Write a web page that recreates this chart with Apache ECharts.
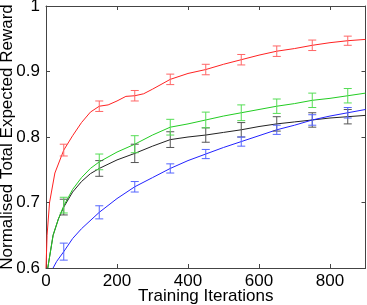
<!DOCTYPE html>
<html><head><meta charset="utf-8">
<script src="https://cdn.jsdelivr.net/npm/echarts@6/dist/echarts.min.js"></script>
<style>html,body{margin:0;padding:0;background:#fff}#c{width:367px;height:305px}</style>
</head><body><div id="c"></div>
<script>
const redX   = [0,3,10,25,50,75,100,125,150,175,200,225,250,275,300,350,400,450,500,550,600,650,700,750,800,850,900];
const redY   = [0.600,0.650,0.700,0.745,0.780,0.802,0.822,0.838,0.847,0.849,0.855,0.862,0.863,0.866,0.873,0.888,0.897,0.903,0.911,0.918,0.925,0.931,0.935,0.940,0.944,0.947,0.949];
const greenX = [5,20,35,50,75,100,125,150,200,250,300,350,400,450,500,550,600,650,700,750,800,850,900];
const greenY = [0.600,0.650,0.675,0.695,0.720,0.738,0.752,0.762,0.777,0.789,0.803,0.815,0.820,0.826,0.832,0.837,0.842,0.847,0.851,0.856,0.859,0.863,0.867];
const blackX = [5,20,35,50,75,100,125,150,200,250,300,350,400,450,500,550,600,650,700,750,800,850,900];
const blackY = [0.600,0.650,0.675,0.693,0.716,0.732,0.744,0.752,0.765,0.775,0.786,0.796,0.800,0.803,0.807,0.811,0.816,0.820,0.823,0.826,0.829,0.831,0.833];
const blueX  = [20,30,50,75,100,150,200,250,300,350,400,450,500,550,600,650,700,750,800,850,900];
const blueY  = [0.600,0.610,0.625,0.645,0.660,0.685,0.706,0.724,0.738,0.752,0.764,0.774,0.784,0.793,0.802,0.811,0.818,0.826,0.832,0.837,0.842];

const errX      = [50,150,250,350,450,550,650,750,850];
const redMean   = [0.780,0.847,0.863,0.888,0.903,0.918,0.931,0.940,0.947];
const redErr    = [0.009,0.008,0.008,0.008,0.008,0.008,0.008,0.008,0.007];
const greenMean = [0.696,0.762,0.789,0.815,0.826,0.837,0.847,0.856,0.863];
const greenErr  = [0.012,0.012,0.013,0.012,0.012,0.012,0.011,0.011,0.011];
const blackMean = [0.693,0.752,0.775,0.796,0.803,0.811,0.820,0.826,0.831];
const blackErr  = [0.012,0.012,0.014,0.012,0.011,0.011,0.011,0.011,0.011];
const blueMean  = [0.625,0.685,0.724,0.752,0.774,0.793,0.811,0.826,0.837];
const blueErr   = [0.013,0.010,0.008,0.007,0.007,0.007,0.007,0.008,0.008];

const yTicks = [0.6,0.7,0.8,0.9,1];
const xTicks = [0,200,400,600,800];

const FONT = 'Liberation Sans';
const FS = 17;
const chart = echarts.init(document.getElementById('c'), null, {renderer:'canvas'});

function pairs(xs, ys){ return xs.map((x,i)=>[x, ys[i]]); }
function lineSeries(xs, ys, color, z){
  return {type:'line', data:pairs(xs,ys), showSymbol:false, symbol:'none', smooth:false,
    lineStyle:{color:color, width:1}, z:z, animation:false, silent:true};
}
function errSeries(mean, err, color, z){
  return {type:'custom', z:z, animation:false, silent:true,
    data: errX.map((x,i)=>[x, mean[i], err[i]]),
    renderItem:function(params, api){
      const x = api.value(0), m = api.value(1), e = api.value(2);
      const lo = api.coord([x, m-e]), hi = api.coord([x, m+e]);
      const w = 4;
      const st = {stroke:color, lineWidth:1};
      return {type:'group', children:[
        {type:'line', shape:{x1:lo[0], y1:lo[1], x2:hi[0], y2:hi[1]}, style:st},
        {type:'line', shape:{x1:lo[0]-w, y1:lo[1], x2:lo[0]+w, y2:lo[1]}, style:st},
        {type:'line', shape:{x1:hi[0]-w, y1:hi[1], x2:hi[0]+w, y2:hi[1]}, style:st}
      ]};
    }};
}

const axisLineStyle = {lineStyle:{color:'#444', width:1}};
chart.setOption({
  animation:false,
  backgroundColor:'#fff',
  grid:{left:46, right:1.5, top:6, bottom:37, containLabel:false, outerBoundsMode:'none'},
  xAxis:[{
    type:'value', min:0, max:900, interval:200, position:'bottom',
    axisLine:{show:true, onZero:false, ...axisLineStyle},
    axisTick:{show:true, inside:true, length:4, lineStyle:{color:'#444'}},
    axisLabel:{show:true, color:'#000', fontFamily:FONT, fontSize:FS, margin:5,
      formatter:v=> xTicks.includes(v) ? String(v) : ''},
    splitLine:{show:false},
    name:'Training Iterations', nameLocation:'middle', nameGap:20, nameMoveOverlap:false,
    nameTextStyle:{color:'#000', fontFamily:FONT, fontSize:FS}
  },{
    type:'value', min:0, max:900, interval:200, position:'top',
    axisLine:{show:true, onZero:false, ...axisLineStyle},
    axisTick:{show:true, inside:true, length:4, lineStyle:{color:'#444'}},
    axisLabel:{show:false}, splitLine:{show:false}
  }],
  yAxis:[{
    type:'value', min:0.6, max:1, interval:0.1, position:'left',
    axisLine:{show:true, onZero:false, ...axisLineStyle},
    axisTick:{show:true, inside:true, length:4, lineStyle:{color:'#444'}},
    axisLabel:{show:true, color:'#000', fontFamily:FONT, fontSize:FS, margin:6,
      formatter:v=>{ const r = Math.round(v*10)/10; return r===1 ? '1' : r.toFixed(1); }},
    splitLine:{show:false},
    name:'Normalised Total Expected Reward', nameLocation:'middle', nameGap:30, nameMoveOverlap:false,
    nameTextStyle:{color:'#000', fontFamily:FONT, fontSize:FS}
  },{
    type:'value', min:0.6, max:1, interval:0.1, position:'right',
    axisLine:{show:true, onZero:false, ...axisLineStyle},
    axisTick:{show:true, inside:true, length:4, lineStyle:{color:'#444'}},
    axisLabel:{show:false}, splitLine:{show:false}
  }],
  series:[
    lineSeries(blackX, blackY, '#222222', 2),
    lineSeries(greenX, greenY, '#22cc22', 3),
    lineSeries(redX, redY, '#ff2222', 4),
    lineSeries(blueX, blueY, '#2222ff', 5),
    errSeries(blackMean, blackErr, '#555555', 6),
    errSeries(greenMean, greenErr, '#55dd55', 6),
    errSeries(redMean, redErr, '#ff6666', 6),
    errSeries(blueMean, blueErr, '#5566ff', 6)
  ]
});
</script></body></html>
